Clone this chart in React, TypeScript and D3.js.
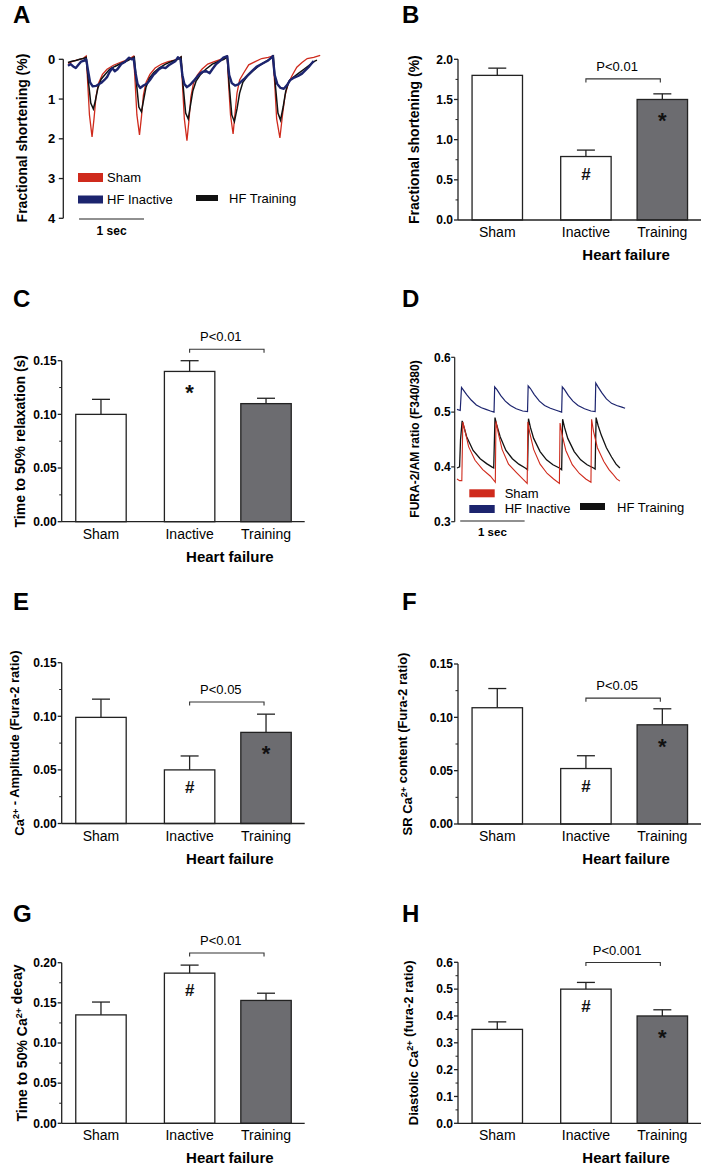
import React from "react";
import * as d3 from "d3";

// ---------- DATA ----------
const groups = ["Sham", "Inactive", "Training"];

// B: fractional shortening (%)
const fsMean = [1.8, 0.79, 1.5];
const fsErr = [0.09, 0.08, 0.07];
// C: time to 50% relaxation (s)
const relaxMean = [0.1, 0.14, 0.11];
const relaxErr = [0.014, 0.01, 0.005];
// E: Ca2+ amplitude
const ampMean = [0.099, 0.05, 0.085];
const ampErr = [0.017, 0.013, 0.017];
// F: SR Ca2+ content
const srMean = [0.109, 0.052, 0.093];
const srErr = [0.018, 0.012, 0.015];
// G: time to 50% Ca2+ decay
const decayMean = [0.135, 0.187, 0.153];
const decayErr = [0.016, 0.01, 0.009];
// H: diastolic Ca2+
const diaMean = [0.35, 0.5, 0.4];
const diaErr = [0.028, 0.025, 0.023];

const marksB = ["", "#", "*"];
const marksC = ["", "*", ""];
const marksE = ["", "#", "*"];
const marksF = ["", "#", "*"];
const marksG = ["", "#", ""];
const marksH = ["", "#", "*"];

const pLabels = ["P<0.01", "P<0.01", "P<0.05", "P<0.05", "P<0.01", "P<0.001"];
const bracketLevels = [1.756, 0.1607, 0.1133, 0.118, 0.212, 0.599];

const legendLabels = ["Sham", "HF Inactive", "HF Training"];

// A: cell shortening traces [time s, shortening %]
const shamA: [number, number][] = [
  [0.0, 0.1], [0.06, 0.06], [0.12, 0.03], [0.18, 0.0], [0.24, -0.03], [0.28, -0.08],
  [0.3, 0.5], [0.33, 1.4], [0.37, 1.95], [0.4, 1.5], [0.43, 0.95], [0.47, 0.6], [0.53, 0.38], [0.6, 0.25], [0.7, 0.15], [0.8, 0.08], [0.9, 0.02], [0.98, -0.05], [1.01, -0.08],
  [1.03, 0.5], [1.06, 1.4], [1.1, 1.9], [1.13, 1.45], [1.16, 0.9], [1.2, 0.58], [1.26, 0.38], [1.34, 0.22], [1.44, 0.12], [1.54, 0.06], [1.64, 0.02], [1.71, -0.03], [1.74, -0.06],
  [1.76, 0.6], [1.79, 1.5], [1.83, 2.05], [1.86, 1.55], [1.89, 0.95], [1.93, 0.6], [1.99, 0.4], [2.06, 0.25], [2.15, 0.12], [2.25, 0.06], [2.35, 0.0], [2.42, -0.04], [2.45, -0.08],
  [2.47, 0.6], [2.5, 1.4], [2.54, 1.88], [2.57, 1.35], [2.6, 0.85], [2.64, 0.52], [2.7, 0.35], [2.78, 0.14], [2.88, 0.06], [2.98, -0.02], [3.08, -0.05], [3.15, -0.08],
  [3.18, 0.6], [3.21, 1.5], [3.26, 1.98], [3.3, 1.4], [3.34, 0.9], [3.39, 0.6], [3.45, 0.4], [3.52, 0.2], [3.6, 0.08], [3.68, -0.02], [3.78, -0.05], [3.88, -0.1],
];
const trainingA: [number, number][] = [
  [0.0, 0.08], [0.06, 0.05], [0.12, 0.03], [0.18, 0.0], [0.24, -0.02], [0.28, -0.05],
  [0.31, 0.5], [0.35, 1.1], [0.39, 1.25], [0.42, 1.05], [0.46, 0.72], [0.51, 0.5], [0.57, 0.38], [0.64, 0.25], [0.72, 0.18], [0.82, 0.1], [0.92, 0.03], [0.99, -0.03], [1.02, -0.06],
  [1.05, 0.55], [1.09, 1.2], [1.13, 1.32], [1.16, 1.05], [1.2, 0.7], [1.25, 0.48], [1.32, 0.33], [1.4, 0.22], [1.5, 0.12], [1.6, 0.05], [1.69, 0.0], [1.74, -0.06],
  [1.77, 0.65], [1.81, 1.35], [1.85, 1.5], [1.88, 1.2], [1.92, 0.8], [1.97, 0.55], [2.04, 0.38], [2.12, 0.25], [2.22, 0.12], [2.32, 0.05], [2.4, 0.0], [2.45, -0.06],
  [2.48, 0.65], [2.52, 1.4], [2.56, 1.57], [2.6, 1.25], [2.64, 0.85], [2.69, 0.58], [2.76, 0.42], [2.84, 0.3], [2.94, 0.16], [3.04, 0.06], [3.12, -0.02], [3.16, -0.08],
  [3.19, 0.65], [3.23, 1.35], [3.27, 1.53], [3.31, 1.2], [3.35, 0.8], [3.4, 0.55], [3.47, 0.45], [3.55, 0.35], [3.63, 0.25], [3.71, 0.15], [3.79, 0.05], [3.83, 0.02],
];
const inactiveA: [number, number][] = [
  [0.0, 0.16], [0.04, 0.12], [0.08, 0.18], [0.12, 0.22], [0.16, 0.14], [0.2, 0.06], [0.24, 0.04], [0.28, 0.0],
  [0.31, 0.3], [0.34, 0.58], [0.38, 0.68], [0.43, 0.67], [0.48, 0.62], [0.52, 0.58], [0.56, 0.52], [0.6, 0.45], [0.64, 0.32], [0.68, 0.22], [0.72, 0.3], [0.76, 0.25], [0.82, 0.12], [0.88, 0.06], [0.94, -0.04], [0.98, 0.0], [1.01, -0.02],
  [1.04, 0.35], [1.07, 0.62], [1.11, 0.72], [1.16, 0.66], [1.21, 0.62], [1.26, 0.52], [1.31, 0.4], [1.36, 0.32], [1.4, 0.25], [1.45, 0.2], [1.5, 0.22], [1.55, 0.15], [1.6, 0.1], [1.65, 0.05], [1.69, -0.05], [1.73, 0.0],
  [1.76, 0.4], [1.79, 0.62], [1.83, 0.7], [1.88, 0.64], [1.93, 0.55], [1.98, 0.45], [2.03, 0.36], [2.08, 0.31], [2.13, 0.3], [2.18, 0.35], [2.22, 0.25], [2.28, 0.12], [2.34, 0.04], [2.39, -0.04], [2.45, -0.08],
  [2.48, 0.4], [2.52, 0.6], [2.57, 0.66], [2.62, 0.63], [2.67, 0.55], [2.72, 0.48], [2.78, 0.38], [2.83, 0.3], [2.9, 0.19], [3.0, 0.1], [3.08, 0.03], [3.15, -0.08],
  [3.18, 0.4], [3.22, 0.62], [3.27, 0.72], [3.32, 0.74], [3.37, 0.65], [3.42, 0.52], [3.48, 0.46], [3.54, 0.42], [3.6, 0.36], [3.65, 0.28], [3.7, 0.2], [3.75, 0.1], [3.78, 0.04],
];

// D: FURA-2 ratio traces [time s, ratio]
const inactiveD: [number, number][] = [
  [0.0, 0.505], [0.05, 0.503], [0.07, 0.545], [0.1, 0.54], [0.15, 0.532], [0.22, 0.522], [0.3, 0.513], [0.38, 0.508], [0.45, 0.505], [0.52, 0.502], [0.575, 0.5],
  [0.585, 0.546], [0.62, 0.541], [0.68, 0.53], [0.75, 0.52], [0.83, 0.512], [0.92, 0.506], [1.02, 0.502], [1.095, 0.501],
  [1.105, 0.548], [1.14, 0.543], [1.2, 0.532], [1.28, 0.52], [1.36, 0.512], [1.45, 0.507], [1.55, 0.503], [1.625, 0.5],
  [1.635, 0.546], [1.67, 0.541], [1.73, 0.53], [1.8, 0.52], [1.88, 0.512], [1.98, 0.506], [2.08, 0.502], [2.145, 0.501],
  [2.155, 0.553], [2.19, 0.546], [2.25, 0.535], [2.32, 0.524], [2.4, 0.516], [2.48, 0.512], [2.56, 0.509], [2.61, 0.507],
];
const trainingD: [number, number][] = [
  [0.0, 0.398], [0.04, 0.4], [0.055, 0.45], [0.08, 0.484], [0.11, 0.472], [0.15, 0.455], [0.25, 0.43], [0.36, 0.415], [0.46, 0.406], [0.54, 0.4], [0.57, 0.398],
  [0.59, 0.49], [0.62, 0.475], [0.67, 0.455], [0.76, 0.43], [0.86, 0.415], [0.96, 0.405], [1.06, 0.398], [1.095, 0.395],
  [1.11, 0.488], [1.14, 0.472], [1.19, 0.452], [1.29, 0.428], [1.39, 0.413], [1.49, 0.404], [1.59, 0.398], [1.625, 0.395],
  [1.64, 0.487], [1.67, 0.472], [1.72, 0.452], [1.82, 0.428], [1.92, 0.413], [2.02, 0.404], [2.12, 0.398], [2.145, 0.396],
  [2.16, 0.49], [2.19, 0.476], [2.24, 0.458], [2.32, 0.435], [2.4, 0.418], [2.47, 0.405], [2.53, 0.398],
];
const shamD: [number, number][] = [
  [0.0, 0.378], [0.04, 0.375], [0.075, 0.375], [0.09, 0.482], [0.12, 0.468], [0.18, 0.437], [0.28, 0.412], [0.4, 0.395], [0.52, 0.383], [0.595, 0.372],
  [0.605, 0.483], [0.64, 0.462], [0.7, 0.432], [0.8, 0.405], [0.92, 0.39], [1.02, 0.378], [1.09, 0.37],
  [1.1, 0.482], [1.13, 0.462], [1.19, 0.432], [1.29, 0.405], [1.4, 0.388], [1.5, 0.378], [1.59, 0.37],
  [1.6, 0.48], [1.63, 0.46], [1.69, 0.43], [1.79, 0.404], [1.9, 0.388], [2.0, 0.378], [2.08, 0.372],
  [2.09, 0.487], [2.12, 0.465], [2.18, 0.435], [2.28, 0.41], [2.36, 0.395], [2.42, 0.387], [2.48, 0.378], [2.53, 0.374],
];

const traceTicksA = [0, 1, 2, 3, 4];
const traceTicksD = [0.3, 0.4, 0.5, 0.6];

// ---------- STYLE ----------
const FONT = "'Liberation Sans', Arial, Helvetica, sans-serif";
const RED = "#cf2a1c";
const BLUE = "#1c246e";
const BLACK = "#111";
const GREY = "#6c6c70";
const AX = "#222";

function Sup({ t, size = 9 }: { t: string; size?: number }) {
  return (
    <>
      <tspan dy={-5} fontSize={size}>{t}</tspan>
      <tspan dy={5}>{""}</tspan>
    </>
  );
}

type BarProps = {
  letter: string;
  letterX: number;
  letterY: number;
  x0: number;
  yTop: number;
  yBot: number;
  max: number;
  step: number;
  fmt: string;
  means: number[];
  errs: number[];
  marks: string[];
  pLabel: string;
  bracket: number;
  titleX: number;
  title: React.ReactNode;
  titleSize: number;
};

function BarPanel(p: BarProps) {
  const y = d3.scaleLinear().domain([0, p.max]).range([p.yBot, p.yTop]);
  const x = d3.scaleLinear().domain([-0.514, 2.67]).range([p.x0, p.x0 + 243.3]);
  const pos = [0, 1.16, 2.16];
  const half = 0.33;
  const f = d3.format(p.fmt);
  const major = d3.range(0, p.max + 1e-9, p.step);
  const minor = d3.range(p.step / 2, p.max, p.step);
  const bx = (i: number) => x(pos[i]);
  const by = y(p.bracket);
  const bMid = (bx(1) + bx(2)) / 2;
  return (
    <g fontFamily={FONT}>
      <text x={p.letterX} y={p.letterY} fontSize={24} fontWeight="bold">{p.letter}</text>
      {groups.map((g, i) => {
        const top = y(p.means[i]);
        const et = y(p.means[i] + p.errs[i]);
        const cx = bx(i);
        return (
          <g key={g}>
            <line x1={cx} x2={cx} y1={top} y2={et} stroke={AX} strokeWidth={1.3} />
            <line x1={cx - 9} x2={cx + 9} y1={et} y2={et} stroke={AX} strokeWidth={1.3} />
            <rect
              x={x(pos[i] - half)}
              y={top}
              width={x(pos[i] + half) - x(pos[i] - half)}
              height={p.yBot - top}
              fill={i === 2 ? GREY : "#fff"}
              stroke={AX}
              strokeWidth={1.3}
            />
            {p.marks[i] === "*" && (
              <text x={cx} y={top + 29} textAnchor="middle" fontSize={22} fontWeight="bold" fill="#111">*</text>
            )}
            {p.marks[i] === "#" && (
              <text x={cx} y={top + 23} textAnchor="middle" fontSize={17} fontWeight="bold" fill="#111">#</text>
            )}
            <text x={cx} y={p.yBot + 17} textAnchor="middle" fontSize={14}>{g}</text>
          </g>
        );
      })}
      <line x1={p.x0} x2={p.x0} y1={p.yTop} y2={p.yBot} stroke={AX} strokeWidth={1.3} />
      <line x1={p.x0} x2={p.x0 + 243} y1={p.yBot} y2={p.yBot} stroke={AX} strokeWidth={1.3} />
      {major.map((v) => (
        <g key={"M" + v}>
          <line x1={p.x0 - 4} x2={p.x0} y1={y(v)} y2={y(v)} stroke={AX} strokeWidth={1.3} />
          <text x={p.x0 - 5} y={y(v)} dy="0.35em" textAnchor="end" fontSize={12} fontWeight="bold">{f(v)}</text>
        </g>
      ))}
      {minor.map((v) => (
        <line key={"m" + v} x1={p.x0 - 2.5} x2={p.x0} y1={y(v)} y2={y(v)} stroke={AX} strokeWidth={1} />
      ))}
      <text x={bMid + 2} y={p.yBot + 40} textAnchor="middle" fontSize={15} fontWeight="bold">Heart failure</text>
      <path
        d={`M${bx(1)},${by + 3.5}V${by}H${bx(2) - 2}V${by + 3.5}`}
        fill="none"
        stroke="#333"
        strokeWidth={1.1}
      />
      <text x={bMid - 7} y={by - 8} textAnchor="middle" fontSize={13}>{p.pLabel}</text>
      <text
        transform={`translate(${p.titleX},${(p.yTop + p.yBot) / 2}) rotate(-90)`}
        dy="0.35em"
        textAnchor="middle"
        fontSize={p.titleSize}
        fontWeight="bold"
      >
        {p.title}
      </text>
    </g>
  );
}

function PanelA() {
  const x = d3.scaleLinear().domain([0, 1]).range([68, 133]);
  const y = d3.scaleLinear().domain([0, 4]).range([59.3, 218.3]);
  const line = d3.line<[number, number]>().x((d) => x(d[0])).y((d) => y(d[1]));
  const ax = 63.3;
  return (
    <g fontFamily={FONT}>
      <text x={13} y={22.5} fontSize={24} fontWeight="bold">A</text>
      <line x1={ax} x2={ax} y1={y(0)} y2={y(4)} stroke={AX} strokeWidth={1.3} />
      {traceTicksA.map((v) => (
        <g key={v}>
          <line x1={ax - 4.5} x2={ax} y1={y(v)} y2={y(v)} stroke={AX} strokeWidth={1.3} />
          <text x={ax - 8} y={y(v)} dy="0.35em" textAnchor="end" fontSize={13} fontWeight="bold">{v}</text>
        </g>
      ))}
      <path d={line(shamA) || ""} fill="none" stroke={RED} strokeWidth={1.3} />
      <path d={line(trainingA) || ""} fill="none" stroke={BLACK} strokeWidth={1.5} />
      <path d={line(inactiveA) || ""} fill="none" stroke={BLUE} strokeWidth={2.4} strokeLinejoin="round" />
      <rect x={78} y={173} width={25} height={9} fill={RED} />
      <text x={107} y={181.5} fontSize={13}>{legendLabels[0]}</text>
      <rect x={78} y={195.5} width={25} height={8} fill={BLUE} />
      <text x={107} y={204} fontSize={13}>{legendLabels[1]}</text>
      <rect x={196} y={195} width={22} height={6} fill={BLACK} />
      <text x={229} y={202.5} fontSize={13}>{legendLabels[2]}</text>
      <line x1={x(0.17)} x2={x(1.17)} y1={219} y2={219} stroke={AX} strokeWidth={1.2} />
      <text x={x(0.67)} y={234.5} textAnchor="middle" fontSize={12} fontWeight="bold">1 sec</text>
      <text
        transform={`translate(22,138) rotate(-90)`}
        dy="0.35em"
        textAnchor="middle"
        fontSize={14}
        fontWeight="bold"
      >
        Fractional shortening (%)
      </text>
    </g>
  );
}

function PanelD() {
  const x = d3.scaleLinear().domain([0, 1]).range([457, 521.4]);
  const y = d3.scaleLinear().domain([0.3, 0.6]).range([521.7, 357.3]);
  const line = d3.line<[number, number]>().x((d) => x(d[0])).y((d) => y(d[1]));
  const ax = 454.7;
  return (
    <g fontFamily={FONT}>
      <text x={402} y={306.5} fontSize={24} fontWeight="bold">D</text>
      <line x1={ax} x2={ax} y1={y(0.3)} y2={y(0.6)} stroke={AX} strokeWidth={1.2} />
      {traceTicksD.map((v) => (
        <g key={v}>
          <line x1={ax - 3.5} x2={ax} y1={y(v)} y2={y(v)} stroke={AX} strokeWidth={1.2} />
          <text x={ax - 4} y={y(v)} dy="0.35em" textAnchor="end" fontSize={12} fontWeight="bold">{d3.format(".1f")(v)}</text>
        </g>
      ))}
      <path d={line(inactiveD) || ""} fill="none" stroke={BLUE} strokeWidth={1.2} />
      <path d={line(trainingD) || ""} fill="none" stroke={BLACK} strokeWidth={1.3} />
      <path d={line(shamD) || ""} fill="none" stroke={RED} strokeWidth={1.1} />
      <rect x={469.3} y={489.3} width={25.4} height={8} fill={RED} />
      <text x={504.7} y={497.5} fontSize={13}>{legendLabels[0]}</text>
      <rect x={469.3} y={505} width={25.4} height={8} fill={BLUE} />
      <text x={504.7} y={513} fontSize={13}>{legendLabels[1]}</text>
      <rect x={580} y={503} width={25} height={7} fill={BLACK} />
      <text x={617} y={511.5} fontSize={13}>{legendLabels[2]}</text>
      <line x1={x(0.05)} x2={x(1.05)} y1={521} y2={521} stroke={AX} strokeWidth={1.2} />
      <text x={x(0.55)} y={535.5} textAnchor="middle" fontSize={11.5} fontWeight="bold">1 sec</text>
      <text
        transform={`translate(415,439) rotate(-90)`}
        dy="0.35em"
        textAnchor="middle"
        fontSize={12}
        fontWeight="bold"
      >
        FURA-2/AM ratio (F340/380)
      </text>
    </g>
  );
}

export default function App() {
  return (
    <svg
      width={704}
      height={1168}
      style={{ position: "absolute", left: 0, top: 0, background: "#fff" }}
    >
      <rect width={704} height={1168} fill="#fff" />
      <PanelA />
      <BarPanel
        letter="B" letterX={402} letterY={22.5} x0={458} yTop={59.3} yBot={220}
        max={2} step={0.5} fmt=".1f" means={fsMean} errs={fsErr} marks={marksB}
        pLabel={pLabels[0]} bracket={bracketLevels[0]} titleX={413.7} titleSize={14}
        title={<>Fractional shortening (%)</>}
      />
      <BarPanel
        letter="C" letterX={13} letterY={306.5} x0={61.7} yTop={360.7} yBot={521.7}
        max={0.15} step={0.05} fmt=".2f" means={relaxMean} errs={relaxErr} marks={marksC}
        pLabel={pLabels[1]} bracket={bracketLevels[1]} titleX={20} titleSize={14}
        title={<>Time to 50% relaxation (s)</>}
      />
      <PanelD />
      <BarPanel
        letter="E" letterX={13} letterY={610} x0={61.7} yTop={662.7} yBot={823.5}
        max={0.15} step={0.05} fmt=".2f" means={ampMean} errs={ampErr} marks={marksE}
        pLabel={pLabels[2]} bracket={bracketLevels[2]} titleX={19.5} titleSize={13}
        title={<>Ca<Sup t="2+" /> - Amplitude (Fura-2 ratio)</>}
      />
      <BarPanel
        letter="F" letterX={402} letterY={610} x0={458} yTop={664} yBot={824}
        max={0.15} step={0.05} fmt=".2f" means={srMean} errs={srErr} marks={marksF}
        pLabel={pLabels[3]} bracket={bracketLevels[3]} titleX={407} titleSize={13}
        title={<>SR Ca<Sup t="2+" /> content (Fura-2 ratio)</>}
      />
      <BarPanel
        letter="G" letterX={13} letterY={921.5} x0={61.7} yTop={962.7} yBot={1123.3}
        max={0.2} step={0.05} fmt=".2f" means={decayMean} errs={decayErr} marks={marksG}
        pLabel={pLabels[4]} bracket={bracketLevels[4]} titleX={21.7} titleSize={14}
        title={<>Time to 50% Ca<Sup t="2+" /> decay</>}
      />
      <BarPanel
        letter="H" letterX={402} letterY={921.5} x0={458} yTop={962.3} yBot={1123.3}
        max={0.6} step={0.1} fmt=".1f" means={diaMean} errs={diaErr} marks={marksH}
        pLabel={pLabels[5]} bracket={bracketLevels[5]} titleX={413} titleSize={13}
        title={<>Diastolic Ca<Sup t="2+" /> (fura-2 ratio)</>}
      />
    </svg>
  );
}
